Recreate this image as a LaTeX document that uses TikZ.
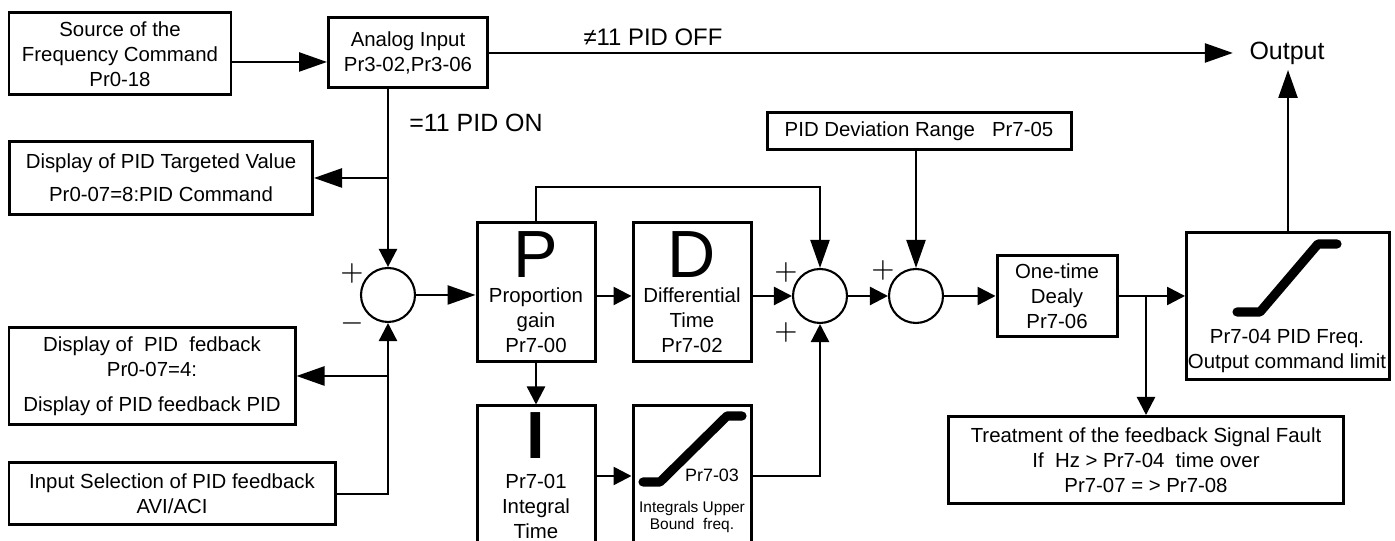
\documentclass[tikz,border=0pt]{standalone}
\usepackage{fontspec}
\setmainfont{Liberation Sans}
\usetikzlibrary{arrows.meta}
\newcommand{\pidtext}{\fontsize{5.8}{7.1}\selectfont}
\newcommand{\pidbig}{\fontsize{19}{19}\selectfont}
\newcommand{\pidsmall}{\fontsize{4.4}{5.1}\selectfont}
\tikzset{
  pidbox/.style={draw,line width=0.85pt,inner sep=0pt,align=center,font=\pidtext},
  sumnode/.style={draw,circle,line width=0.6pt,minimum size=0.54cm,inner sep=0pt},
  sgn/.style={inner sep=0pt,font=\fontsize{8}{8}\selectfont},
  bigarr/.style={line width=0.7pt,-{Triangle[length=0.28cm,width=0.19cm]}},
  smallarr/.style={line width=0.7pt,-{Triangle[length=0.18cm,width=0.18cm]}},
  ramp/.style={line width=2.6pt,line cap=round,line join=round}
}
\begin{document}
\begin{tikzpicture}[x=1cm,y=1cm]
\path[use as bounding box,clip] (0,0) rectangle (13.95,5.41);
\node[pidbox,minimum width=2.22cm,minimum height=0.82cm] (src) at (1.20,4.87) {Source of the\\Frequency Command\\Pr0-18};
\node[pidbox,minimum width=1.59cm,minimum height=0.70cm] (ana) at (4.08,4.88) {Analog Input\\Pr3-02,Pr3-06};
\node[anchor=south,inner sep=0.05cm,font=\fontsize{7.1}{8}\selectfont] (out) at (12.87,4.71) {Output};
\node[font=\fontsize{6.8}{8}\selectfont] (offlbl) at (6.53,5.04) {≠11 PID OFF};
\node[font=\fontsize{7.1}{8}\selectfont] (onlbl) at (4.76,4.18) {=11 PID ON};
\node[pidbox,minimum width=3.03cm,minimum height=0.73cm] (tgt) at (1.61,3.63) {Display of PID Targeted Value\\[0.08cm]Pr0-07=8:PID Command};
\node[sumnode] (c1) at (3.88,2.46) {};
\node[sgn] (c1plus) at (3.52,2.68) {$+$};
\node[sgn] (c1minus) at (3.52,2.18) {$-$};
\node[pidbox,minimum width=2.86cm,minimum height=0.97cm] (fb) at (1.52,1.65) {Display of~ PID~ fedback\\Pr0-07=4:\\[0.1cm]Display of PID feedback PID};
\node[pidbox,minimum width=3.26cm,minimum height=0.62cm] (sel) at (1.72,0.47) {Input Selection of PID feedback\\AVI/ACI};
\node[pidbox,minimum width=1.18cm,minimum height=1.39cm] (P) at (5.36,2.49) {{\pidbig P}\\Proportion\\gain\\Pr7-00};
\node[pidbox,minimum width=1.18cm,minimum height=1.39cm] (D) at (6.92,2.49) {{\pidbig D}\\Differential\\Time\\Pr7-02};
\node[pidbox,minimum width=1.18cm,minimum height=1.40cm] (I) at (5.36,0.65) {{\pidbig\bfseries I}\\[0.05cm]Pr7-01\\Integral\\Time};
\node[pidbox,minimum width=1.18cm,minimum height=1.40cm] (ub) at (6.92,0.65) {};
\draw[ramp] (6.43,0.59) -- (6.60,0.59) -- (7.27,1.25) -- (7.42,1.25);
\node[font=\fontsize{5.1}{6}\selectfont,inner sep=0pt] (ubpr) at (7.12,0.66) {Pr7-03};
\node[font=\pidsmall,align=center,inner sep=0pt] (ubtxt) at (6.92,0.24) {Integrals Upper\\Bound~ freq.};
\node[sumnode] (c2) at (8.20,2.45) {};
\node[sgn] (c2plusa) at (7.86,2.69) {$+$};
\node[sgn] (c2plusb) at (7.86,2.09) {$+$};
\node[sumnode] (c3) at (9.16,2.45) {};
\node[sgn] (c3plus) at (8.83,2.71) {$+$};
\node[pidbox,minimum width=3.04cm,minimum height=0.37cm] (dev) at (9.19,4.10) {PID Deviation Range~~ Pr7-05};
\node[pidbox,minimum width=1.20cm,minimum height=0.81cm] (dly) at (10.57,2.45) {One-time\\Dealy\\Pr7-06};
\node[pidbox,minimum width=2.03cm,minimum height=1.47cm] (lim) at (12.88,2.35) {};
\draw[ramp] (12.37,2.29) -- (12.60,2.29) -- (13.18,2.97) -- (13.37,2.97);
\node[font=\pidtext,align=center,inner sep=0pt] (limtxt) at (12.87,1.90) {Pr7-04 PID Freq.\\Output command limit};
\node[pidbox,minimum width=3.95cm,minimum height=0.87cm] (trt) at (11.46,0.81) {Treatment of the feedback Signal Fault\\If~ Hz > Pr7-04~ time over\\Pr7-07 = > Pr7-08};
\draw[bigarr] ([yshift=-0.08cm]src.east) -- ([yshift=-0.08cm]src.east -| ana.west);
\draw[bigarr,shorten >=0.11cm] (ana.east |- out.west) -- (out.west);
\draw[smallarr] (c1 |- ana.south) -- (c1.north);
\draw[bigarr] (c1 |- tgt.east) -- (tgt.east);
\draw[bigarr] (c1 |- fb.east) -- (fb.east);
\draw[smallarr] (sel.east) -| (c1.south);
\draw[bigarr] (c1.east) -- (c1.east -| P.west);
\draw[smallarr] (P.east |- c2) -- (D.west |- c2);
\draw[smallarr] (D.east |- c2) -- (c2.west);
\draw[bigarr] (P.north) -- ++(0,0.34) -| (c2.north);
\draw[smallarr] (P.south) -- (I.north);
\draw[smallarr] (I.east) -- (ub.west);
\draw[smallarr] (ub.east) -| (c2.south);
\draw[smallarr] (c2.east) -- (c3.west);
\draw[bigarr] (c3 |- dev.south) -- (c3.north);
\draw[smallarr] (c3.east) -- (dly.west);
\draw[smallarr] (dly.east) -- (dly.east -| lim.west);
\draw[smallarr] (trt.north |- dly.east) -- (trt.north);
\draw[bigarr] (lim.north) -- (lim.north |- out.south);
\end{tikzpicture}
\end{document}
